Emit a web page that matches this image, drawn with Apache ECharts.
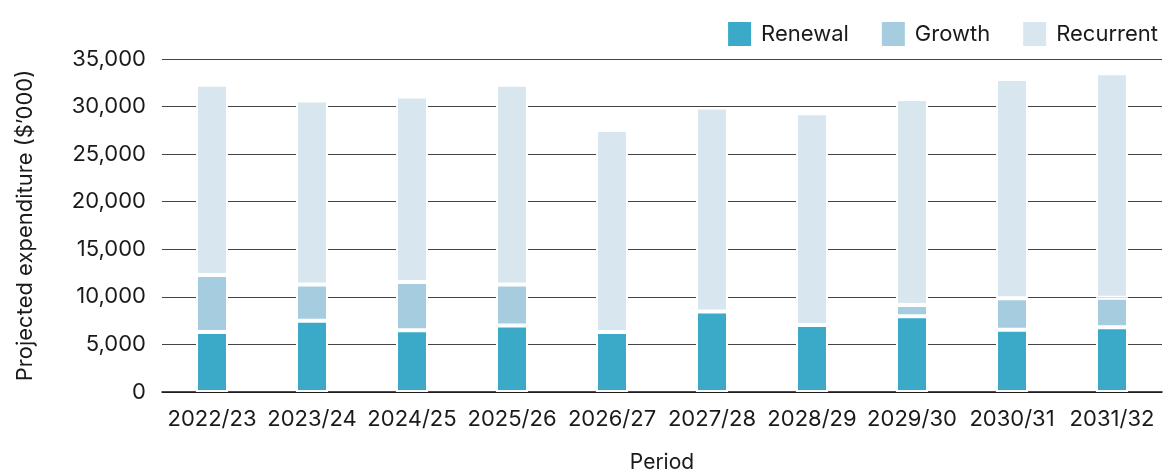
<!DOCTYPE html>
<html>
<head>
<meta charset="utf-8">
<script src="https://cdn.jsdelivr.net/npm/echarts@6/dist/echarts.min.js"></script>
<style>
html,body{margin:0;padding:0;background:#fff;}
#chart{width:1166px;height:472px;}
</style>
</head>
<body>
<div id="chart"></div>
<script>
const categories = ['2022/23','2023/24','2024/25','2025/26','2026/27','2027/28','2028/29','2029/30','2030/31','2031/32'];
const renewal   = [6300, 7500, 6500, 7000, 6300, 8450, 7050, 7950, 6550, 6800];
const growth    = [6000, 3800, 5050, 4300, 0,    0,    0,    1200, 3300, 3100];
const recurrent = [20000, 19350, 19500, 21000, 21250, 21450, 22250, 21650, 23050, 23600];
const yTicks = [0, 5000, 10000, 15000, 20000, 25000, 30000, 35000];
const seriesNames = ['Renewal', 'Growth', 'Recurrent'];

const FONT = 'Inter, "Noto Sans", sans-serif';
const TXT = '#1a1a1a';
const chart = echarts.init(document.getElementById('chart'), null, {renderer: 'canvas'});

function barSeries(name, data, color) {
  return {
    name: name, type: 'bar', stack: 'total', data: data,
    barWidth: 32,
    itemStyle: {color: color, borderColor: '#ffffff', borderWidth: 2},
    emphasis: {disabled: true}
  };
}

chart.setOption({
  animation: false,
  textStyle: {fontFamily: FONT, color: TXT},
  legend: {
    right: 3, top: 15,
    itemWidth: 25, itemHeight: 26, itemGap: 31,
    icon: 'rect',
    textStyle: {fontFamily: FONT, fontSize: 22, color: TXT, padding: [0, 0, 0, 4]},
    data: seriesNames
  },
  grid: {left: 162, right: 4, top: 59, bottom: 80, containLabel: false, outerBoundsMode: 'none'},
  xAxis: {
    type: 'category', data: categories,
    name: 'Period', nameLocation: 'middle', nameGap: 60,
    nameTextStyle: {fontFamily: FONT, fontSize: 21, color: TXT},
    axisLine: {show: true, lineStyle: {color: '#111', width: 1.5}},
    axisTick: {show: false},
    axisLabel: {fontFamily: FONT, fontSize: 22, color: TXT, margin: 16, interval: 0}
  },
  yAxis: {
    type: 'value', min: yTicks[0], max: yTicks[yTicks.length - 1], interval: 5000,
    name: 'Projected expenditure ($\u2019000)', nameLocation: 'middle', nameGap: 126,
    nameTextStyle: {fontFamily: FONT, fontSize: 22, color: TXT},
    axisLine: {show: false}, axisTick: {show: false},
    splitLine: {show: true, lineStyle: {color: '#444444', width: 1.2}},
    axisLabel: {
      fontFamily: FONT, fontSize: 22, color: TXT, margin: 16,
      formatter: v => v.toLocaleString('en-US')
    }
  },
  series: [
    barSeries(seriesNames[0], renewal, '#3BA9C8'),
    barSeries(seriesNames[1], growth, '#A6CDDF'),
    barSeries(seriesNames[2], recurrent, '#D8E6EF')
  ]
});
</script>
</body>
</html>
